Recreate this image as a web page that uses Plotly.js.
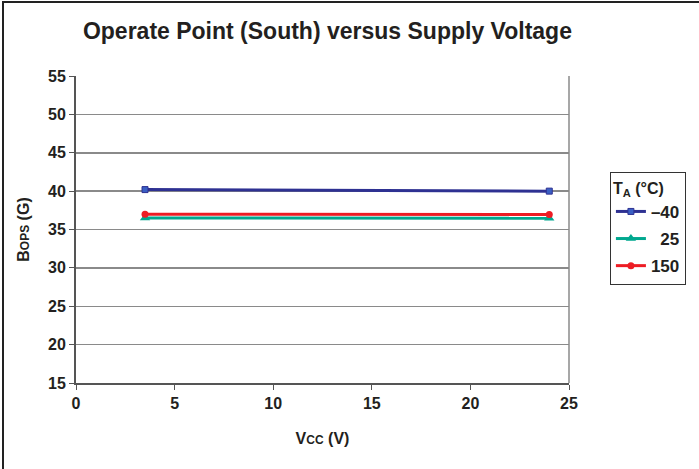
<!DOCTYPE html>
<html>
<head>
<meta charset="utf-8">
<script src="https://cdn.plot.ly/plotly-3.0.1.min.js"></script>
<style>
html,body{margin:0;padding:0;background:#fff;}
#wrap{position:relative;width:699px;height:469px;}
#chart{width:699px;height:469px;}
#frame{position:absolute;left:2px;top:1px;width:697px;height:468px;border-left:2px solid #222;border-top:2px solid #222;pointer-events:none;box-sizing:border-box;}
</style>
</head>
<body>
<div id="wrap"><div id="chart"></div><div id="frame"></div></div>
<script>
const vcc = [3.5, 24];
const seriesNames = ['\u201340', '\u200725', '150'];
const bopsM40 = [40.2, 40.0];
const bops25 = [36.5, 36.45];
const bops150 = [37.0, 36.95];
const xTicks = [0, 5, 10, 15, 20, 25];
const yTicks = [15, 20, 25, 30, 35, 40, 45, 50, 55];

const fontFam = 'Liberation Sans, Arial, sans-serif';
const bf = (size) => ({family: fontFam, size: size, weight: 'bold', color: '#231f20'});
const traces = [
  {x: vcc, y: bopsM40, name: seriesNames[0], legendgroup: 'a', mode: 'lines+markers',
   line: {color: '#2e3192', width: 3}, marker: {symbol: 'square', size: 6, color: '#3a5fc4', line:{color:'#2e3192',width:1}}},
  {x: vcc, y: bops25, name: seriesNames[1], legendgroup: 'b', mode: 'lines+markers',
   line: {color: '#00a88f', width: 3}, marker: {symbol: 'triangle-up', size: 9, color: '#00a88f'}},
  {x: vcc, y: bops150, name: seriesNames[2], legendgroup: 'c', mode: 'lines+markers',
   line: {color: '#ed1c24', width: 3}, marker: {symbol: 'circle', size: 7, color: '#ed1c24'}}
];

const layout = {
  width: 699, height: 469,
  margin: {l: 76, r: 130, t: 76, b: 86},
  paper_bgcolor: '#fff', plot_bgcolor: '#fff',
  font: bf(16),
  title: {text: 'Operate Point (South) versus Supply Voltage', font: bf(23),
          x: 0.51, xref: 'paper', xanchor: 'center', y: 0.935, yanchor: 'middle'},
  xaxis: {range: [0, 25], tickvals: xTicks,
          showgrid: false, zeroline: false, showline: true, linecolor: '#555', linewidth: 2,
          mirror: false, ticks: 'outside', ticklen: 5, tickcolor: '#555', tickfont: bf(16),
          title: {text: 'V<span style="font-size:12px">CC</span> (V)', font: bf(16), standoff: 22}},
  yaxis: {range: [15, 55], tickvals: yTicks,
          showgrid: true, gridcolor: '#8a8a8a', gridwidth: 1.5, zeroline: false,
          showline: true, linecolor: '#555', linewidth: 2, ticks: 'outside', ticklen: 5, tickcolor: '#555',
          tickfont: bf(16),
          title: {text: 'B<span style="font-size:12px">OPS</span> (G)', font: bf(16), standoff: 14}},
  shapes: [
    {type: 'line', xref: 'paper', yref: 'paper', x0: 1, x1: 1, y0: 0, y1: 1, line: {color: '#8a8a8a', width: 1.5}}
  ],
  legend: {x: 1.083, xanchor: 'left', y: 0.687, yanchor: 'top', bordercolor: '#333', borderwidth: 1,
           bgcolor: '#fff', font: bf(17),
           title: {text: 'T<sub>A</sub> (°C)', font: bf(16)}, tracegroupgap: 2,
           itemwidth: 30},
  showlegend: true
};
Plotly.newPlot('chart', traces, layout, {displayModeBar: false, staticPlot: true});
</script>
</body>
</html>
